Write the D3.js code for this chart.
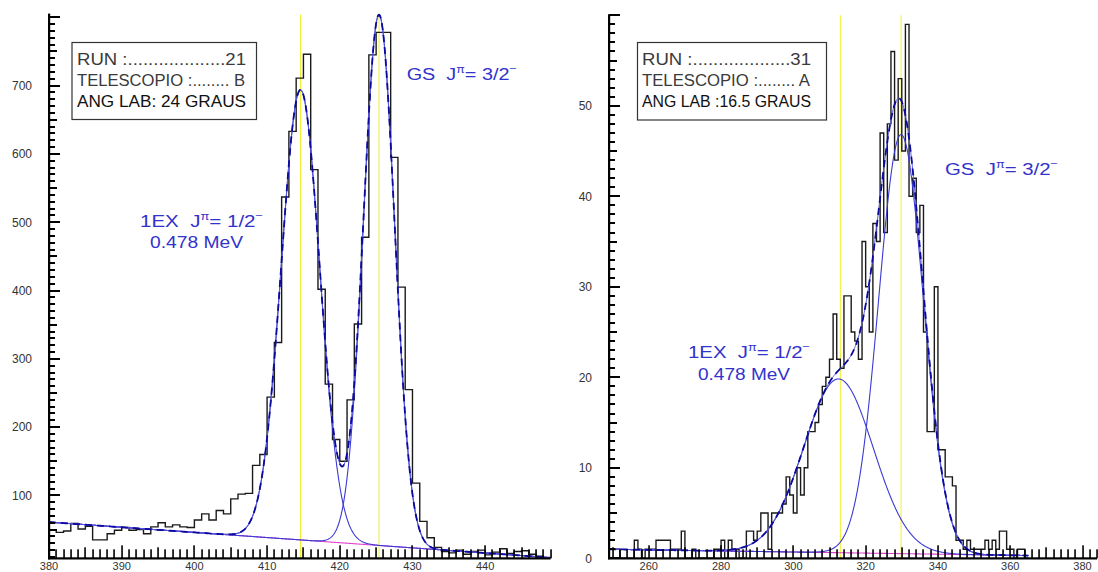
<!DOCTYPE html>
<html><head><meta charset="utf-8">
<script src="https://cdn.jsdelivr.net/npm/d3@7"></script>
<style>
html,body{margin:0;padding:0;background:#fff;}
svg{display:block;}
text{font-family:"Liberation Sans",Arial,sans-serif;}
</style></head><body>
<svg id="c" width="1098" height="572"></svg>
<script>
// ---------------- DATA ----------------
// Left spectrum (RUN 21): bins of width 1, low edges 380..448
const leftBins = d3.range(380, 449);
const leftCounts = [
  50,46,48,59,51,55,35,35,44,49,
  53,49,50,44,54,60,54,57,54,53,
  64,73,64,78,73,95,102,103,144,160,
  244,324,537,633,711,746,577,402,263,182,
  150,240,351,478,745,778,778,595,405,255,
  118,62,38,24,18,16,20,14,18,20,
  13,17,22,15,18,19,14,11,9
];
// Right spectrum (RUN 31): bins of width 1, low edges 249..364
const rightBins = d3.range(249, 365);
const rightCounts = [
  1,1,1,0,0,0,0,2,1,0,
  1,1,1,2,2,2,2,1,1,1,
  3,0,0,1,0,0,0,0,0,1,
  1,2,0,2,1,1,0,0,3,3,
  2,3,5,5,1,5,5,5,6,9,
  7,5,10,7,10,14,14,15,17,19,
  20,22,27,22,21,29,29,25,24,22,
  35,30,25,37,35,47,36,48,56,44,
  53,45,59,40,42,36,39,25,14,14,
  30,12,12,9,9,8,2,2,1,2,
  1,1,1,1,2,1,2,1,3,3,
  1,1,0,1,1,0
];
// Fit results: background [x0, value at x0, slope]; peaks [amplitude, centroid, sigma]
const leftBackground = [380, 61, -0.754];
const leftPeaks = [[659, 414.6, 2.65], [777, 425.4, 2.15]];
const rightBackground = [249, 1.0, -0.006];
const rightPeaks = [[19.2, 312.5, 9.6], [46.3, 329.8, 6.2]];
// Centroid marker lines (yellow)
const leftMarkers = [414.6, 425.4];
const rightMarkers = [313.0, 329.8];
// Axis ticks
const leftXTicks = [380, 390, 400, 410, 420, 430, 440];
const leftYTicks = [100, 200, 300, 400, 500, 600, 700];
const rightXTicks = [260, 280, 300, 320, 340, 360, 380];
const rightYTicks = [0, 10, 20, 30, 40, 50];
// Info boxes and labels
const leftInfo = ["RUN :...................21", "TELESCOPIO :........ B", "ANG LAB: 24 GRAUS"];
const rightInfo = ["RUN :...................31", "TELESCOPIO :........ A", "ANG LAB :16.5 GRAUS"];
const exLabel = ["1EX\u00a0\u00a0J", "\u03c0", "= 1/2", "\u2212"];
const gsLabel = ["GS\u00a0\u00a0J", "\u03c0", "= 3/2", "\u2212"];
const energyLabel = "0.478 MeV";

// ---------------- DRAW ----------------
const svg = d3.select('#c');
const BLUE = '#3a3ad4', DBLUE = '#0a0aa0', TXTBLUE = '#3232cc';
const TFONT = 'Roboto, "Liberation Sans", Arial, sans-serif';
const axisLayer = [];

function multiples(lo, hi, step) {
  const out = [];
  const n0 = Math.ceil(lo / step - 1e-9), n1 = Math.floor(hi / step + 1e-9);
  for (let n = n0; n <= n1; n++) out.push(+(n * step).toFixed(6));
  return out;
}

function drawPanel(cfg) {
  const g = svg.append('g');
  const x = d3.scaleLinear(cfg.xDomain, cfg.xRange);
  const y = d3.scaleLinear(cfg.yDomain, cfg.yRange);
  const base = cfg.yDomain[0];
  const clipId = 'clip' + cfg.id;
  const defs = svg.append('defs');
  defs.append('clipPath').attr('id', clipId).append('rect')
    .attr('x', cfg.xRange[0]).attr('y', cfg.yRange[1] - 1)
    .attr('width', cfg.xRange[1] - cfg.xRange[0]).attr('height', cfg.yRange[0] - cfg.yRange[1] + 1);
  const pg = g.append('g').attr('clip-path', `url(#${clipId})`);

  // yellow centroid lines
  cfg.markers.forEach(m => {
    pg.append('line').attr('x1', x(m)).attr('x2', x(m))
      .attr('y1', y(cfg.yDomain[1])).attr('y2', y(base))
      .attr('stroke', '#f0f030').attr('stroke-width', 1);
  });

  // histogram
  const pts = [[cfg.bins[0], base]];
  cfg.bins.forEach((b, i) => { pts.push([b, cfg.counts[i]]); pts.push([b + 1, cfg.counts[i]]); });
  pts.push([cfg.bins[cfg.bins.length - 1] + 1, base]);
  const line = d3.line().x(d => x(d[0])).y(d => y(Math.max(d[1], base)));
  pg.append('path').attr('d', line(pts)).attr('fill', 'none')
    .attr('stroke', '#1a1a1a').attr('stroke-width', 1.4).attr('stroke-linejoin', 'miter');

  // fit functions
  const bgf = t => cfg.bg[1] + cfg.bg[2] * (t - cfg.bg[0]);
  const gauss = (p, t) => p[0] * Math.exp(-0.5 * ((t - p[1]) / p[2]) ** 2);
  const xs = d3.range(cfg.fitRange[0], cfg.fitRange[1] + 1e-9, 0.1);
  const fl = d3.line().x(d => x(d[0])).y(d => y(d[1]));
  pg.append('path').attr('d', fl(xs.map(t => [t, bgf(t)])))
    .attr('fill', 'none').attr('stroke', '#e040d0').attr('stroke-width', 1.1);
  cfg.peaks.forEach(p => {
    pg.append('path').attr('d', fl(xs.map(t => [t, bgf(t) + gauss(p, t)])))
      .attr('fill', 'none').attr('stroke', BLUE).attr('stroke-width', 1.1);
  });
  const tot = xs.map(t => [t, bgf(t) + d3.sum(cfg.peaks, p => gauss(p, t))]);
  pg.append('path').attr('d', fl(tot)).attr('fill', 'none').attr('stroke', '#5a5ad8').attr('stroke-width', 1);
  pg.append('path').attr('d', fl(tot)).attr('fill', 'none').attr('stroke', DBLUE)
    .attr('stroke-width', 1.8).attr('stroke-dasharray', '7,5');

  // tick labels
  const x0 = cfg.xRange[0], y0 = cfg.yRange[0];
  const lab = g.append('g').attr('fill', '#333').attr('font-family', '"Liberation Sans",Arial,sans-serif');
  cfg.yTicks.forEach(v => {
    lab.append('text').attr('x', x0 - 17).attr('y', y(v)).attr('dy', '0.36em')
      .attr('text-anchor', 'end').attr('font-size', 12).text(v);
  });
  cfg.xTicks.forEach(v => {
    lab.append('text').attr('x', x(v)).attr('y', 570).attr('text-anchor', 'middle')
      .attr('font-size', 11).text(v);
  });

  // info box
  const b = cfg.box;
  g.append('rect').attr('x', b.x).attr('y', b.y).attr('width', b.w).attr('height', b.h)
    .attr('fill', '#fff').attr('stroke', '#333').attr('stroke-width', 1.2);
  cfg.info.forEach((s, i) => {
    g.append('text').attr('x', b.tx).attr('y', b.ty[i]).text(s)
      .attr('font-family', TFONT).attr('font-weight', 300)
      .attr('font-size', 16).attr('fill', i < 2 ? '#3a3a3a' : '#111')
      .attr('textLength', b.tl[i]).attr('lengthAdjust', 'spacingAndGlyphs');
  });

  // annotations
  function jLabel(parts, px, py, len) {
    const t = g.append('text').attr('x', px).attr('y', py).attr('fill', TXTBLUE).attr('font-size', 16)
      .attr('font-family', TFONT).attr('font-weight', 300)
      .attr('textLength', len).attr('lengthAdjust', 'spacingAndGlyphs');
    t.append('tspan').text(parts[0]);
    t.append('tspan').text(parts[1]).attr('font-size', 10).attr('dy', -7);
    t.append('tspan').text(parts[2]).attr('dy', 7);
    t.append('tspan').text(parts[3]).attr('font-size', 10).attr('dy', -8);
  }
  jLabel(exLabel, cfg.ex[0], cfg.ex[1], cfg.ex[2]);
  g.append('text').attr('x', cfg.en[0]).attr('y', cfg.en[1]).text(energyLabel)
    .attr('font-family', TFONT).attr('font-weight', 300)
    .attr('fill', TXTBLUE).attr('font-size', 16).attr('textLength', cfg.en[2]).attr('lengthAdjust', 'spacingAndGlyphs');
  jLabel(gsLabel, cfg.gs[0], cfg.gs[1], cfg.gs[2]);

  // axis ticks (inward), positioned by the scales; drawn last on top
  const yTickData = multiples(cfg.yDomain[0], cfg.yDomain[1], cfg.yMinorStep).map(v => {
    const isMajor = Math.abs(v / cfg.yMajorStep - Math.round(v / cfg.yMajorStep)) < 1e-6;
    const isMid = Math.abs(v / cfg.yMidStep - Math.round(v / cfg.yMidStep)) < 1e-6;
    return {py: Math.round(y(v)), len: isMajor ? 11 : (isMid ? 8 : 6)};
  });
  const xTickData = multiples(cfg.xDomain[0], cfg.xDomain[1], cfg.xMinorStep).map(v => {
    const isMajor = cfg.xTicks.includes(v);
    const isMid = Math.abs(v / cfg.xMidStep - Math.round(v / cfg.xMidStep)) < 1e-6;
    return {px: Math.round(x(v)), len: isMajor ? 13 : (isMid ? 11 : 9)};
  });
  axisLayer.push({x0, y0, yTop: cfg.yRange[1], xEnd: cfg.xRange[1], yTickData, xTickData});
}

drawPanel({
  id: 'L', bins: leftBins, counts: leftCounts,
  xDomain: [380, 449], xRange: [49, 550.6],
  yDomain: [8, 804], yRange: [558.3, 14.6],
  bg: leftBackground, peaks: leftPeaks, fitRange: [380, 449], markers: leftMarkers,
  yTicks: leftYTicks, yMinorStep: 10, yMidStep: 50, yMajorStep: 100,
  xTicks: leftXTicks, xMinorStep: 1, xMidStep: 5,
  info: leftInfo,
  box: {x: 72, y: 42.5, w: 184.5, h: 77, tx: 77, ty: [65, 86, 106.5], tl: [169, 168, 169]},
  ex: [140, 227, 123], en: [150, 248, 93], gs: [406.7, 80, 110]
});
drawPanel({
  id: 'R', bins: rightBins, counts: rightCounts,
  xDomain: [249, 384], xRange: [609, 1097],
  yDomain: [0, 60], yRange: [558.3, 15.3],
  bg: rightBackground, peaks: rightPeaks, fitRange: [249, 365], markers: rightMarkers,
  yTicks: rightYTicks, yMinorStep: 1, yMidStep: 5, yMajorStep: 10,
  xTicks: rightXTicks, xMinorStep: 2, xMidStep: 10,
  info: rightInfo,
  box: {x: 637.5, y: 42.5, w: 189, h: 77.5, tx: 642, ty: [65, 85.5, 106.5], tl: [169, 168, 169]},
  ex: [688, 358, 122], en: [698, 380, 92], gs: [945, 175, 113]
});

// axes layer on top of everything
axisLayer.forEach(a => {
  const ag = svg.append('g').attr('fill', '#000');
  a.yTickData.forEach(t => {
    ag.append('rect').attr('x', a.x0).attr('y', t.py - 1).attr('width', t.len).attr('height', 2);
  });
  a.xTickData.forEach(t => {
    ag.append('rect').attr('x', t.px - 0.75).attr('y', a.y0 - t.len).attr('width', 1.6).attr('height', t.len);
  });
  ag.append('rect').attr('x', a.x0 - 1).attr('y', a.yTop - 1).attr('width', 2.2).attr('height', a.y0 - a.yTop + 2);
  ag.append('rect').attr('x', a.x0 - 1).attr('y', a.y0 - 1).attr('width', a.xEnd - a.x0 + 1).attr('height', 2.2);
});
</script>
</body></html>
